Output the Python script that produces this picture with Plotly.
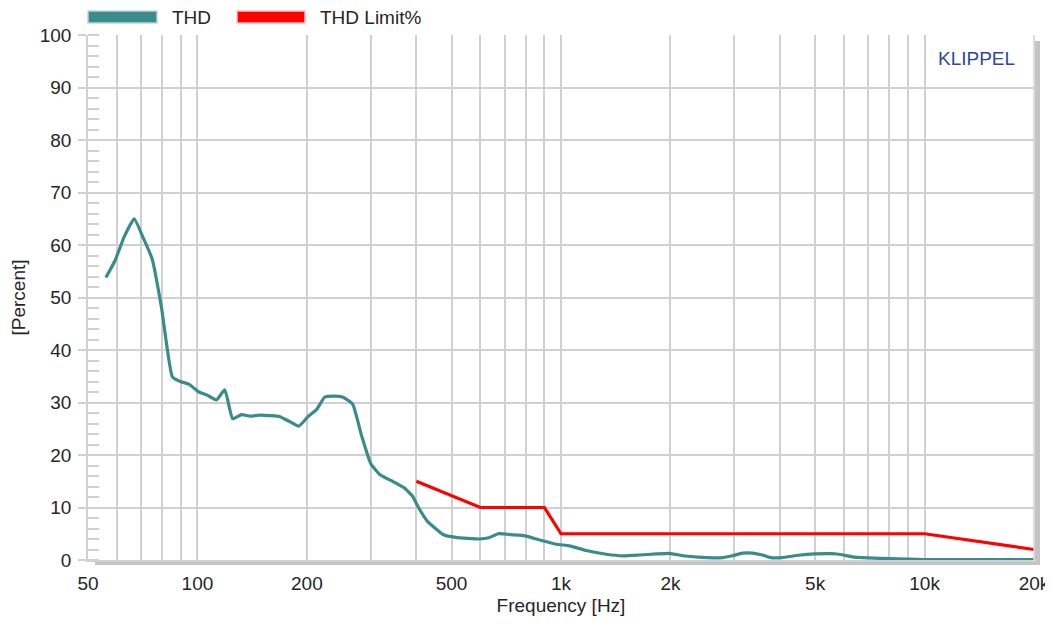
import plotly.graph_objects as go

# THD curve (Hz, %)
thd_freq = [56, 59.4, 62.9, 67.0, 71.0, 75.1, 79.6, 85.3, 89.7, 94.7, 100.9, 106.4, 112.8, 118.9,
            125.0, 132.2, 139.7, 148.1, 159.1, 168.6, 179.0, 190, 201.5, 212.9, 223.7, 236.4,
            251.5, 267.3, 283.3, 299.5, 317.2, 346, 371, 391, 407, 430, 475, 514, 597, 637,
            672, 739, 797, 874, 970, 1056, 1173, 1333, 1480, 1643, 1825, 1982, 2200, 2444,
            2780, 2960, 3157, 3360, 3580, 3770, 4050, 4500, 5000, 5560, 5925, 6320, 7020,
            8000, 9000, 10000, 14000, 20000]
thd_val = [53.8, 57.1, 61.6, 65.0, 61.3, 57.3, 48.2, 34.9, 34.0, 33.5, 32.0, 31.4, 30.5, 32.4,
           26.9, 27.7, 27.4, 27.6, 27.5, 27.3, 26.4, 25.5, 27.3, 28.7, 31.0, 31.2,
           31.0, 29.7, 23.5, 18.4, 16.3, 14.9, 13.7, 12.1, 9.8, 7.3, 4.8, 4.3, 4.0, 4.3,
           5.0, 4.8, 4.6, 3.8, 3.0, 2.7, 1.8, 1.1, 0.8, 0.95, 1.15, 1.27, 0.76, 0.5,
           0.45, 0.8, 1.3, 1.3, 0.95, 0.45, 0.45, 0.9, 1.15, 1.2, 1.0, 0.6, 0.4,
           0.25, 0.15, 0.1, 0.1, 0.1]

# THD limit (Hz, %)
limit_freq = [400, 600, 900, 1000, 10000, 20000]
limit_val = [15, 10, 10, 5, 5, 2]

# Axis ticks
x_grid = [60, 70, 80, 90, 100, 200, 300, 400, 500, 600, 700, 800, 900, 1000,
          2000, 3000, 4000, 5000, 6000, 7000, 8000, 9000, 10000, 20000]
x_label_map = {50: "50", 100: "100", 200: "200", 500: "500", 1000: "1k", 2000: "2k",
               5000: "5k", 10000: "10k", 20000: "20k"}
x_tickvals = [50] + x_grid
x_ticktext = [x_label_map.get(v, "") for v in x_tickvals]

TEAL = "#3a8c8c"
RED = "#ff0000"
GRID = "#d0d0d0"
TXT = "#262626"
FONT = "Liberation Sans, Arial, sans-serif"
FS = 19

fig = go.Figure()
fig.add_trace(go.Scatter(x=thd_freq, y=thd_val, mode="lines", name="THD",
                         line=dict(color=TEAL, width=3.2, shape="spline", smoothing=0.4),
                         showlegend=False))
fig.add_trace(go.Scatter(x=limit_freq, y=limit_val, mode="lines", name="THD Limit%",
                         line=dict(color=RED, width=3.2), showlegend=False))

fig.update_xaxes(type="log", range=[1.69897, 4.30103], tickvals=x_tickvals, ticktext=x_ticktext,
                 showgrid=True, gridcolor=GRID, gridwidth=1.5, zeroline=False,
                 showline=True, linecolor=GRID, linewidth=1.5, mirror=False,
                 ticks="", ticklabelstandoff=5, automargin=False,
                 tickfont=dict(size=FS, color=TXT, family=FONT),
                 title=dict(text="Frequency [Hz]", font=dict(size=FS, color=TXT, family=FONT),
                            standoff=6))
fig.update_yaxes(range=[0, 100], dtick=10, showgrid=True, gridcolor=GRID, gridwidth=1.5,
                 zeroline=False, showline=True, linecolor=GRID, linewidth=1.5,
                 ticks="outside", ticklen=8, tickcolor=GRID, tickwidth=1.5,
                 ticklabelstandoff=3, automargin=False,
                 minor=dict(dtick=2, ticks="inside", ticklen=11, tickcolor=GRID, tickwidth=1.5,
                            showgrid=False),
                 tickfont=dict(size=FS, color=TXT, family=FONT),
                 title=dict(text="[Percent]", font=dict(size=FS, color=TXT, family=FONT),
                            standoff=12))

shapes = [
    # right border and shadow
    dict(type="line", xref="paper", yref="paper", x0=1, x1=1, y0=0, y1=1,
         line=dict(color=GRID, width=1.5)),
    dict(type="rect", xref="paper", yref="paper", xsizemode="pixel", xanchor=1,
         x0=1, x1=6, ysizemode="pixel", yanchor=0, y0=-5, y1=519,
         fillcolor="#c4c4c4", line=dict(width=0), layer="below"),
    dict(type="rect", xref="paper", yref="paper", xsizemode="pixel", xanchor=0,
         x0=7, x1=952, ysizemode="pixel", yanchor=0, y0=-1, y1=-5,
         fillcolor="#c4c4c4", line=dict(width=0), layer="below"),
    # legend swatches
    dict(type="rect", xref="paper", yref="paper", xsizemode="pixel", xanchor=0,
         x0=0, x1=69, ysizemode="pixel", yanchor=1, y0=12, y1=24,
         fillcolor=TEAL, line=dict(color="#c0d4d4", width=1.5)),
    dict(type="rect", xref="paper", yref="paper", xsizemode="pixel", xanchor=0,
         x0=149, x1=217, ysizemode="pixel", yanchor=1, y0=12, y1=24,
         fillcolor=RED, line=dict(color="#e8c4c4", width=1.5)),
]

annotations = [
    dict(text="THD", xref="paper", yref="paper", x=0, y=1, xanchor="left", yanchor="middle",
         xshift=82, yshift=18, showarrow=False, font=dict(size=FS, color=TXT, family=FONT)),
    dict(text="THD Limit%", xref="paper", yref="paper", x=0, y=1, xanchor="left", yanchor="middle",
         xshift=230, yshift=18, showarrow=False, font=dict(size=FS, color=TXT, family=FONT)),
    dict(text="KLIPPEL", xref="paper", yref="paper", x=1, y=1, xanchor="right", yanchor="middle",
         xshift=-17, yshift=-23, showarrow=False, font=dict(size=FS, color="#2b4a9b", family=FONT)),
]

# page body has an 8px margin, so the figure is sized/offset to compensate
fig.update_layout(width=1045, height=616, margin=dict(l=80, r=19, t=27, b=64),
                  plot_bgcolor="white", paper_bgcolor="white",
                  shapes=shapes, annotations=annotations, showlegend=False,
                  font=dict(family=FONT))

fig.write_html("out.html")
